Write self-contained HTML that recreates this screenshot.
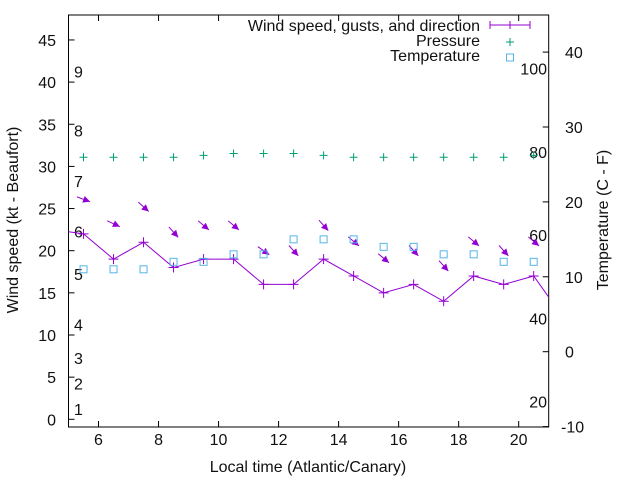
<!DOCTYPE html>
<html><head><meta charset="utf-8"><style>
body{margin:0;background:#fff;}
svg{display:block;font-family:"Liberation Sans",sans-serif;}
</style></head><body>
<svg id="chart" width="640" height="480" viewBox="0 0 640 480" xmlns="http://www.w3.org/2000/svg">
<g id="axes"></g>
<g id="marks"></g>
</svg>
<script>
const hours = [5.5,6.5,7.5,8.5,9.5,10.5,11.5,12.5,13.5,14.5,15.5,16.5,17.5,18.5,19.5,20.5];
const windSpeed = [22,19,21,18,19,19,16,16,19,17,15,16,14,17,16,17];
const windEdgeHours = [4.5,21.5];
const windEdgeSpeed = [22.5,12];
const gusts = [26.1,23.2,25.2,22.2,23,23,20,20,23,21.1,19.1,20,18.2,21.1,20,21.1];
const windDir = [290,295,312,318,310,310,305,318,318,310,310,318,318,310,318,310];
const pressure = [1021,1021,1021,1021,1022,1023,1023,1023,1022,1021,1021,1021,1021,1021,1021,1022];
const temperature = [11,11,11,12,12,13,13,15,15,15,14,14,13,13,12,12];
const xTicks = [6,8,10,12,14,16,18,20];
const yTicks = [0,5,10,15,20,25,30,35,40,45];
const y2Ticks = [-10,0,10,20,30,40];
const fTicks = [20,40,60,80,100];
const beaufortLabels = ["1","2","3","4","5","6","7","8","9"];
const beaufortKnots = [1,4,7,11,17,22,28,34,41];

const L=68.5,R=548.7,T=15,B=427;
const X=h=>L+(h-5)*(R-L)/16;
const Y=v=>419.3-v*8.43;
const Y2=c=>351.7-c*7.49;
const YP=p=>157.3-(p-1021)*1.9;
const NS="http://www.w3.org/2000/svg";
const axes=document.getElementById('axes'), marks=document.getElementById('marks');
function mk(tag,attrs,parent,text){const e=document.createElementNS(NS,tag);for(const k in attrs)e.setAttribute(k,attrs[k]);if(text!==undefined)e.textContent=text;parent.appendChild(e);return e;}

let e;
e=mk('rect',{x:L,y:T,width:R-L,height:B-T,fill:'none',stroke:'#000','stroke-width':1},axes);


xTicks.forEach(t=>{
  e=mk('path',{d:`M${X(t)},${B}v-6M${X(t)},${T}v6`,stroke:'#000'},axes);
  
  
  e=mk('text',{x:X(t),y:445,'text-anchor':'middle','font-size':16,fill:'#111'},axes,String(t));
  
  
});
yTicks.forEach(t=>{
  e=mk('path',{d:`M${L},${Y(t)}h6`,stroke:'#000'},axes);
  
  
  e=mk('text',{x:56,y:Y(t)+6,'text-anchor':'end','font-size':16,fill:'#111'},axes,String(t));
  
  
});
y2Ticks.forEach(t=>{
  e=mk('path',{d:`M${R},${Y2(t)}h-6`,stroke:'#000'},axes);
  
  
  e=mk('text',{x:t<0?561:565,y:Y2(t)+6,'text-anchor':'start','font-size':16,fill:'#111'},axes,String(t));
  
  
});
fTicks.forEach(f=>{
  const c=(f-32)*5/9;
  e=mk('text',{x:547,y:Y2(c)+6,'text-anchor':'end','font-size':16,fill:'#111'},axes,String(f));
  
  
});
beaufortLabels.forEach((b,i)=>{
  e=mk('text',{x:74,y:Y(beaufortKnots[i]+0.25)+6,'font-size':16,fill:'#111'},axes,b);
  
  
});
e=mk('text',{x:308,y:472,'text-anchor':'middle','font-size':16,fill:'#111'},axes,'Local time (Atlantic/Canary)');


e=mk('text',{x:0,y:0,'text-anchor':'middle','font-size':16,fill:'#111',transform:'translate(18,220) rotate(-90)'},axes,'Wind speed (kt - Beaufort)');


e=mk('text',{x:0,y:0,'text-anchor':'middle','font-size':16,fill:'#111',transform:'translate(608,220) rotate(-90)'},axes,'Temperature (C - F)');



const defs=mk('defs',{},marks);
const cp=mk('clipPath',{id:'clip'},defs);
mk('rect',{x:L,y:T,width:R-L,height:B-T},cp);
const g=mk('g',{'clip-path':'url(#clip)'},marks);

const allH=[windEdgeHours[0],...hours,windEdgeHours[1]];
const allV=[windEdgeSpeed[0],...windSpeed,windEdgeSpeed[1]];
e=mk('polyline',{points:allH.map((h,i)=>X(h)+','+Y(allV[i])).join(' '),fill:'none',stroke:'#9400d3','stroke-width':1},g);


hours.forEach((h,i)=>{
  const x=X(h),y=Y(windSpeed[i]);
  e=mk('path',{d:`M${x-5},${y}h10M${x},${y-5}v10`,stroke:'#9400d3','stroke-width':1},g);
  
  
});
hours.forEach((h,i)=>{
  const cx=X(h),cy=Y(gusts[i]);
  const d=windDir[i]*Math.PI/180;
  const ux=-Math.sin(d),uy=Math.cos(d);
  const len=14;
  const x0=cx-ux*len/2,y0=cy-uy*len/2,x1=cx+ux*len/2,y1=cy+uy*len/2;
  const grp=mk('g',{},g);
  
  
  mk('line',{x1:x0,y1:y0,x2:x1,y2:y1,stroke:'#9400d3','stroke-width':1},grp);
  const hl=7,hw=3.5,bx=x1-ux*hl,by=y1-uy*hl;
  mk('polygon',{points:`${x1},${y1} ${bx-uy*hw},${by+ux*hw} ${bx+uy*hw},${by-ux*hw}`,fill:'#9400d3'},grp);
});
hours.forEach((h,i)=>{
  const x=X(h),y=YP(pressure[i]);
  e=mk('path',{d:`M${x-4},${y}h8M${x},${y-4}v8`,stroke:'#009e73','stroke-width':1},g);
  
  
});
hours.forEach((h,i)=>{
  const x=X(h),y=Y2(temperature[i]);
  e=mk('rect',{x:x-3.5,y:y-3.5,width:7,height:7,fill:'none',stroke:'#56b4e9','stroke-width':1},g);
  
  
});

const lg=mk('g',{},marks);


e=mk('text',{x:480,y:31,'text-anchor':'end','font-size':16,fill:'#111'},lg,'Wind speed, gusts, and direction');


e=mk('path',{d:'M490,25h40M490,21v8M530,21v8M510,21v8',stroke:'#9400d3'},lg);


e=mk('text',{x:480,y:46,'text-anchor':'end','font-size':16,fill:'#111'},lg,'Pressure');


e=mk('path',{d:'M506,42h8M510,38v8',stroke:'#009e73'},lg);


e=mk('text',{x:480,y:61,'text-anchor':'end','font-size':16,fill:'#111'},lg,'Temperature');


e=mk('rect',{x:506.5,y:54,width:7,height:7,fill:'none',stroke:'#56b4e9'},lg);


</script>
</body></html>
